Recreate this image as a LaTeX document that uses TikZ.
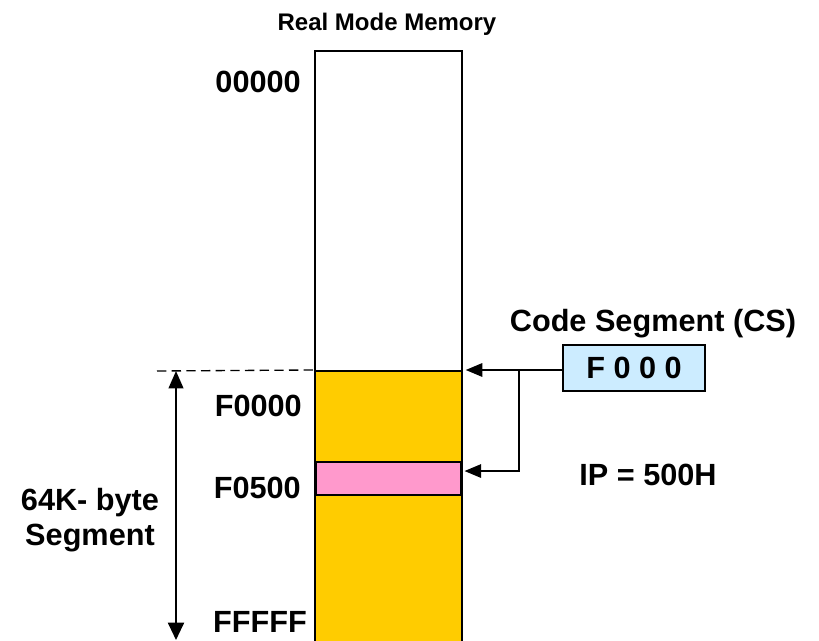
\documentclass[tikz,border=0pt]{standalone}
\usepackage{fontspec}
\setmainfont{Liberation Sans}
\usetikzlibrary{arrows.meta,fit}
\definecolor{segorange}{HTML}{FFCC00}
\definecolor{bandpink}{HTML}{FF99CC}
\definecolor{regblue}{HTML}{CCECFF}
\begin{document}
\begin{tikzpicture}[x=0.75pt,y=-0.75pt,
  box/.style={draw=black,line width=1.5pt,inner sep=0pt},
  big/.style={font=\fontsize{23}{26}\selectfont\bfseries},
  arr/.style={line width=1.6pt,-{Triangle[length=12.5pt,width=10pt]}},
  lbl/.style={big,anchor=east,inner sep=0pt}]
\useasboundingbox (0,0) rectangle (819,641);
% memory column: segment area, free area, offset band
\node[box,fill=segorange,fit={(315,371) (462,670)}] (seg) {};
\node[box,fill=white,fit={(315,51) (462,371)}] (mem) {};
\node[draw=black,line width=1.2pt,inner sep=0pt,fill=bandpink,fit={(316,462) (461,495)}] (band) {};
% title and addresses
\node[font=\fontsize{18}{21}\selectfont\bfseries] (title) at (387,24) {Real Mode Memory};
\node[lbl] (a0) at (301,82) {00000};
\node[lbl] (a1) at (302,406) {F0000};
\node[lbl] (a2) at (301,488) {F0500};
\node[lbl] (a3) at (307,622) {FFFFF};
% segment register
\node[big] (cstitle) at (653,324) {Code Segment (CS)};
\node[box,line width=1.2pt,fill=regblue,fit={(563,345) (705,391)}] (cs) {};
\node[big] (csval) at (cs.center) {F 0 0 0};
\node[big] (ip) at (648,475) {IP = 500H};
% segment extent
\node[big,align=center] (size) at (90,520) {64K- byte\\Segment};
\coordinate (dl) at (157,371);
\draw[line width=1pt,dash pattern=on 7pt off 4pt] (dl) -- (seg.north west);
\coordinate (stop) at (176,371);
\coordinate (sbot) at (176,640);
\draw[line width=1.5pt,{Triangle[length=13pt,width=11pt]}-{Triangle[length=13pt,width=12pt]}] (stop) -- (sbot);
% register to memory
\coordinate (br) at (519,371);
\coordinate (segtip) at ([xshift=2pt]seg.north east);
\coordinate (bandtip) at ([xshift=2pt,yshift=5.6pt]band.east);
\draw[arr] (cs.west |- segtip) -- (segtip);
\draw[arr] (br) |- (bandtip);
\end{tikzpicture}
\end{document}
